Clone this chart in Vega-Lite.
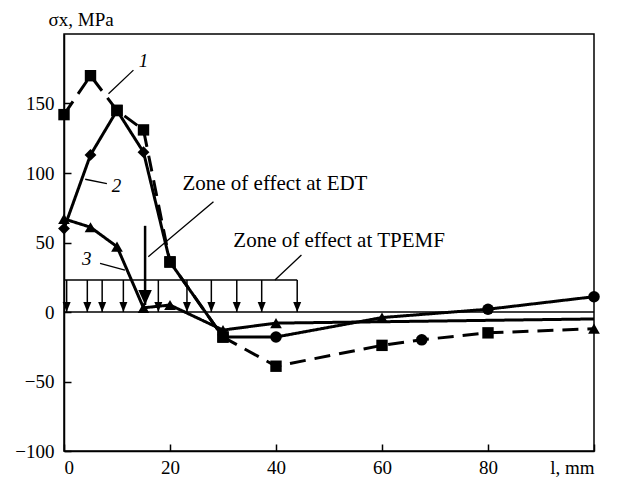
{
  "$schema": "https://vega.github.io/schema/vega-lite/v6.json",
  "width": 530,
  "height": 417,
  "autosize": {"type": "none"},
  "padding": {"left": 64, "top": 34, "right": 37, "bottom": 27},
  "background": "white",
  "config": {
    "view": {"stroke": "black", "strokeWidth": 1.5},
    "font": "Liberation Serif",
    "axis": {
      "grid": false,
      "domainColor": "black",
      "domainWidth": 1.5,
      "tickColor": "black",
      "tickWidth": 1.5,
      "labelFont": "Liberation Serif",
      "labelFontSize": 19,
      "labelColor": "black",
      "titleFont": "Liberation Serif",
      "titleFontWeight": "normal",
      "titleFontSize": 19,
      "titleColor": "black"
    }
  },
  "datasets": {
    "curves": [
      {"series": "1", "x": 0, "y": 142, "marker": "square"},
      {"series": "1", "x": 5, "y": 170, "marker": "square"},
      {"series": "1", "x": 10, "y": 145, "marker": "square"},
      {"series": "1", "x": 15, "y": 131, "marker": "square"},
      {"series": "1", "x": 20, "y": 36, "marker": "square"},
      {"series": "1", "x": 30, "y": -18, "marker": "square"},
      {"series": "1", "x": 40, "y": -39, "marker": "square"},
      {"series": "1", "x": 60, "y": -24, "marker": "square"},
      {"series": "1", "x": 67.5, "y": -20, "marker": "circle"},
      {"series": "1", "x": 80, "y": -15, "marker": "square"},
      {"series": "1", "x": 100, "y": -12, "marker": "triangle"},
      {"series": "2", "x": 0, "y": 60, "marker": "diamond"},
      {"series": "2", "x": 5, "y": 113, "marker": "diamond"},
      {"series": "2", "x": 10, "y": 145, "marker": "square"},
      {"series": "2", "x": 15, "y": 115, "marker": "diamond"},
      {"series": "2", "x": 20, "y": 36, "marker": "square"},
      {"series": "2", "x": 30, "y": -18, "marker": "square"},
      {"series": "2", "x": 40, "y": -18, "marker": "circle"},
      {"series": "2", "x": 60, "y": -4, "marker": "triangle"},
      {"series": "2", "x": 80, "y": 2, "marker": "circle"},
      {"series": "2", "x": 100, "y": 11, "marker": "circle"},
      {"series": "3", "x": 0, "y": 67, "marker": "triangle"},
      {"series": "3", "x": 5, "y": 61, "marker": "triangle"},
      {"series": "3", "x": 10, "y": 47, "marker": "triangle"},
      {"series": "3", "x": 15, "y": 3, "marker": "triangle"},
      {"series": "3", "x": 20, "y": 5, "marker": "triangle"},
      {"series": "3", "x": 30, "y": -13, "marker": "triangle"},
      {"series": "3", "x": 40, "y": -8, "marker": "triangle"},
      {"series": "3", "x": 100, "y": -5, "marker": "none"}
    ],
    "hlines": [
      {"x": 0, "x2": 100, "y": 0},
      {"x": 0, "x2": 44, "y": 23}
    ],
    "arrows": [
      {"x": 0.5, "ytop": 23, "ybot": 0},
      {"x": 4.4, "ytop": 23, "ybot": 0},
      {"x": 7.2, "ytop": 23, "ybot": 0},
      {"x": 11.2, "ytop": 23, "ybot": 0},
      {"x": 17.8, "ytop": 23, "ybot": 0},
      {"x": 23.2, "ytop": 23, "ybot": 0},
      {"x": 27.8, "ytop": 23, "ybot": 0},
      {"x": 32.6, "ytop": 23, "ybot": 0},
      {"x": 37.3, "ytop": 23, "ybot": 0},
      {"x": 44, "ytop": 23, "ybot": 0}
    ],
    "edt": [
      {"x": 15.3, "ytop": 62, "ybot": 5}
    ],
    "leaders": [
      {"x": 13.1, "y": 174, "x2": 8.4, "y2": 157},
      {"x": 4.0, "y": 95.5, "x2": 8.1, "y2": 92.4},
      {"x": 6.8, "y": 35, "x2": 11.5, "y2": 30.2},
      {"x": 28.2, "y": 79.4, "x2": 15.9, "y2": 39.8},
      {"x": 44.8, "y": 41, "x2": 39.8, "y2": 23}
    ],
    "numbers": [
      {"x": 15.0, "y": 176, "text": "1"},
      {"x": 9.9, "y": 86, "text": "2"},
      {"x": 4.3, "y": 33.5, "text": "3"}
    ],
    "notes": [
      {"x": 39.8, "y": 88, "text": "Zone of effect at EDT"},
      {"x": 51.9, "y": 47, "text": "Zone of effect at TPEMF"}
    ]
  },
  "layer": [
    {
      "data": {"name": "hlines"},
      "mark": {"type": "rule", "color": "black", "strokeWidth": 1.5},
      "encoding": {
        "x": {"field": "x", "type": "quantitative", "scale": {"domain": [0, 100], "nice": false},
          "axis": {"values": [0, 20, 40, 60, 80, 100], "title": null, "tickSize": -7, "labelPadding": 14,
            "labelExpr": "datum.value == 100 ? 'l, mm' : datum.label"}},
        "x2": {"field": "x2"},
        "y": {"field": "y", "type": "quantitative", "scale": {"domain": [-100, 200], "nice": false},
          "axis": {"values": [-100, -50, 0, 50, 100, 150], "tickSize": -7, "labelPadding": 17,
            "title": "σx, MPa", "titleAngle": 0, "titleAlign": "left", "titleBaseline": "alphabetic",
            "titleX": -16, "titleY": -9}}
      }
    },
    {
      "data": {"name": "arrows"},
      "mark": {"type": "rule", "color": "black", "strokeWidth": 1.5},
      "encoding": {
        "x": {"field": "x", "type": "quantitative"},
        "y": {"field": "ytop", "type": "quantitative"},
        "y2": {"field": "ybot"}
      }
    },
    {
      "data": {"name": "arrows"},
      "mark": {"type": "point", "filled": true, "color": "black", "opacity": 1, "shape": "M-0.8,-1L0.8,-1L0,1Z", "size": 100, "yOffset": -5},
      "encoding": {
        "x": {"field": "x", "type": "quantitative"},
        "y": {"field": "ybot", "type": "quantitative"}
      }
    },
    {
      "data": {"name": "edt"},
      "mark": {"type": "rule", "color": "black", "strokeWidth": 2.5},
      "encoding": {
        "x": {"field": "x", "type": "quantitative"},
        "y": {"field": "ytop", "type": "quantitative"},
        "y2": {"field": "ybot"}
      }
    },
    {
      "data": {"name": "edt"},
      "mark": {"type": "point", "filled": true, "color": "black", "opacity": 1, "shape": "M-0.9,-1L0.9,-1L0,1Z", "size": 225, "yOffset": -7.5},
      "encoding": {
        "x": {"field": "x", "type": "quantitative"},
        "y": {"field": "ybot", "type": "quantitative"}
      }
    },
    {
      "data": {"name": "leaders"},
      "mark": {"type": "rule", "color": "black", "strokeWidth": 1.3},
      "encoding": {
        "x": {"field": "x", "type": "quantitative"},
        "y": {"field": "y", "type": "quantitative"},
        "x2": {"field": "x2"},
        "y2": {"field": "y2"}
      }
    },
    {
      "data": {"name": "curves"},
      "mark": {"type": "line", "color": "black", "strokeWidth": 3},
      "encoding": {
        "x": {"field": "x", "type": "quantitative"},
        "y": {"field": "y", "type": "quantitative"},
        "detail": {"field": "series"},
        "strokeDash": {"field": "series", "type": "nominal", "legend": null,
          "scale": {"domain": ["1", "2", "3"], "range": [[16, 9], [1, 0], [1, 0]]}}
      }
    },
    {
      "data": {"name": "curves"},
      "transform": [{"filter": "datum.marker != 'none'"}],
      "mark": {"type": "point", "filled": true, "color": "black", "opacity": 1},
      "encoding": {
        "x": {"field": "x", "type": "quantitative"},
        "y": {"field": "y", "type": "quantitative"},
        "shape": {"field": "marker", "type": "nominal", "legend": null,
          "scale": {"domain": ["square", "circle", "triangle", "diamond"], "range": ["square", "circle", "triangle-up", "diamond"]}},
        "size": {"field": "marker", "type": "nominal", "legend": null,
          "scale": {"domain": ["square", "circle", "triangle", "diamond"], "range": [130, 140, 150, 110]}}
      }
    },
    {
      "data": {"name": "numbers"},
      "mark": {"type": "text", "font": "Liberation Serif", "fontStyle": "italic", "fontSize": 19, "color": "black", "align": "center", "baseline": "alphabetic"},
      "encoding": {
        "x": {"field": "x", "type": "quantitative"},
        "y": {"field": "y", "type": "quantitative"},
        "text": {"field": "text"}
      }
    },
    {
      "data": {"name": "notes"},
      "mark": {"type": "text", "font": "Liberation Serif", "fontSize": 21, "color": "black", "align": "center", "baseline": "alphabetic"},
      "encoding": {
        "x": {"field": "x", "type": "quantitative"},
        "y": {"field": "y", "type": "quantitative"},
        "text": {"field": "text"}
      }
    }
  ]
}
